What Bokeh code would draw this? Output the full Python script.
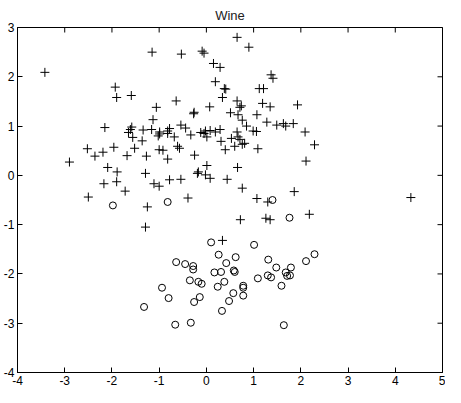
import math
from bokeh.plotting import figure
from bokeh.models import Range1d, FixedTicker
from bokeh.embed import file_html
from bokeh.resources import INLINE

title_text = "Wine"
x_ticks = [-4, -3, -2, -1, 0, 1, 2, 3, 4, 5]
y_ticks = [-4, -3, -2, -1, 0, 1, 2, 3]

# "+" markers
plus_x = [-3.42, -1.15, -0.53, -0.09, -0.05, 0.65, 0.90, 0.15, 0.29, 0.19, 0.38, 0.34,
          1.37, 1.41, 1.12, 1.21, -1.93, -1.90, -1.59, -0.64, 0.65, 0.41,
          -1.06, -1.13, 1.19, 1.35, 1.93, 0.07, 0.71, 0.74, -0.26, -0.27, 0.51, 0.67,
          1.07, 0.76, 1.28, 0.85, 1.49, 1.63, 1.68, 1.84, -0.54, -0.44,
          0.99, 1.06, 2.09, -0.12, -0.02, 0.08, 0.19, 0.29, 0.65, -2.15, -1.58, -1.61,
          -1.65, -1.34, -1.16, -0.99, -0.82, -0.78, -1.56, -1.36, -1.02, -0.99, -0.82,
          -0.33, -0.05, 0.01, 0.31, 0.53, 0.67, 0.71, 0.81, 0.76, -0.68,
          -2.90, -2.52, -2.36, -2.19, -1.96, -1.68, -1.52, -1.27, -1.00, -0.92, -0.82,
          -0.61, -0.57, 0.40, 0.60, 1.09, 2.29, 2.11, -0.25, 0.66, 0.01,
          -2.09, -1.89, -2.17, -1.90, -1.72, -1.29, -1.11, -1.00, -0.78, -0.17, -0.19,
          -0.02, 0.08, -0.54, 0.44, 0.76, -0.39, 1.07, 1.30, 1.86, -2.50, -1.25, -1.29,
          0.72, 1.26, 1.35, 2.18, 4.33, 0.34]
plus_y = [2.09, 2.50, 2.46, 2.52, 2.48, 2.80, 2.60, 2.27, 2.19, 1.90, 1.76, 1.58,
          2.04, 1.97, 1.76, 1.76, 1.79, 1.58, 1.62, 1.51, 1.51, 1.75,
          1.38, 1.13, 1.46, 1.39, 1.43, 1.39, 1.38, 1.41, 1.28, 1.25, 1.27, 1.23,
          1.23, 1.12, 1.08, 1.00, 1.02, 1.05, 1.00, 1.05, 1.02, 0.96,
          0.90, 0.89, 0.88, 0.87, 0.90, 0.91, 0.88, 0.93, 0.88, 0.97, 0.98, 0.93,
          0.87, 0.92, 0.93, 0.88, 0.90, 0.95, 0.77, 0.70, 0.80, 0.84, 0.85,
          0.82, 0.85, 0.78, 0.69, 0.75, 0.78, 0.73, 0.65, 0.63, 0.78,
          0.27, 0.54, 0.39, 0.47, 0.57, 0.40, 0.55, 0.39, 0.52, 0.51, 0.33,
          0.59, 0.55, 0.52, 0.59, 0.54, 0.62, 0.29, 0.41, 0.16, 0.20,
          0.16, 0.07, -0.17, -0.13, -0.32, 0.04, -0.17, -0.22, -0.09, 0.07, 0.04,
          0.01, -0.06, -0.08, -0.08, -0.26, -0.46, -0.47, -0.54, -0.33, -0.44, -0.64, -1.05,
          -0.90, -0.87, -0.90, -0.79, -0.45, -1.32]

# "o" markers
circle_x = [-1.98, -0.82, 1.40, 1.76, 0.10, 1.01, 2.29, 2.11, 0.26, 0.62, 1.31, 0.42,
            1.48, 1.79, -0.64, -0.45, -0.28, -0.28, 0.17, 0.31, 0.58, 0.60, 1.68, 1.71,
            1.77, 1.30, 1.37, 1.09, -0.35, -0.17, -0.10, 0.38, 0.24, 0.78, 0.78, 0.78,
            1.59, -0.94, -0.80, -1.32, -0.26, -0.14, 0.57, 0.48, 0.33, -0.66, -0.33, 1.64]
circle_y = [-0.61, -0.54, -0.50, -0.86, -1.36, -1.41, -1.60, -1.74, -1.61, -1.66, -1.71, -1.78,
            -1.87, -1.87, -1.76, -1.80, -1.84, -1.91, -1.97, -1.96, -1.93, -1.96, -1.97, -2.04,
            -2.03, -2.03, -2.07, -2.09, -2.13, -2.16, -2.20, -2.16, -2.26, -2.24, -2.28, -2.44,
            -2.24, -2.28, -2.49, -2.67, -2.57, -2.47, -2.39, -2.55, -2.75, -3.03, -2.99, -3.04]

FONT = "Liberation Sans"
x_lo, x_hi = x_ticks[0], x_ticks[-1]
y_lo, y_hi = y_ticks[0], y_ticks[-1]

p = figure(width=445, height=387, output_backend="svg", toolbar_location=None,
           x_range=Range1d(x_lo, x_hi), y_range=Range1d(y_lo, y_hi), title=title_text,
           min_border_left=0, min_border_right=3, min_border_top=27, min_border_bottom=0)

p.title.align = "center"
p.title.text_font = FONT
p.title.text_font_size = "13px"
p.title.text_font_style = "normal"
p.title.text_color = "#222222"
p.title.standoff = 10

p.xgrid.visible = False
p.ygrid.visible = False
p.outline_line_color = "black"
p.outline_line_width = 1
p.background_fill_color = "white"
p.border_fill_color = "white"

for ax in (p.xaxis[0], p.yaxis[0]):
    ax.major_tick_in = 5
    ax.major_tick_out = 0
    ax.minor_tick_line_color = None
    ax.axis_line_color = "black"
    ax.major_tick_line_color = "black"
    ax.major_label_text_font = FONT
    ax.major_label_text_font_size = "12px"
    ax.major_label_text_color = "black"
    ax.major_label_standoff = 3
    ax.axis_label_standoff = 0

p.xaxis[0].ticker = FixedTicker(ticks=x_ticks)
p.yaxis[0].ticker = FixedTicker(ticks=y_ticks)
p.xaxis[0].major_label_overrides = {t: str(t) for t in x_ticks}
p.yaxis[0].major_label_overrides = {t: str(t) for t in y_ticks}

# inward ticks on the top and right edges of the box (half of each dash is clipped away)
p.scatter(x_ticks, [y_hi] * len(x_ticks), marker="dash", size=10, angle=math.pi / 2,
          line_color="black", line_width=1)
p.scatter([x_hi] * len(y_ticks), y_ticks, marker="dash", size=10,
          line_color="black", line_width=1)

p.scatter(plus_x, plus_y, marker="cross", size=9, line_color="black", line_width=1)
p.scatter(circle_x, circle_y, marker="circle", size=7, fill_color=None,
          line_color="black", line_width=1)

open("out.html", "w").write(file_html(p, INLINE))
